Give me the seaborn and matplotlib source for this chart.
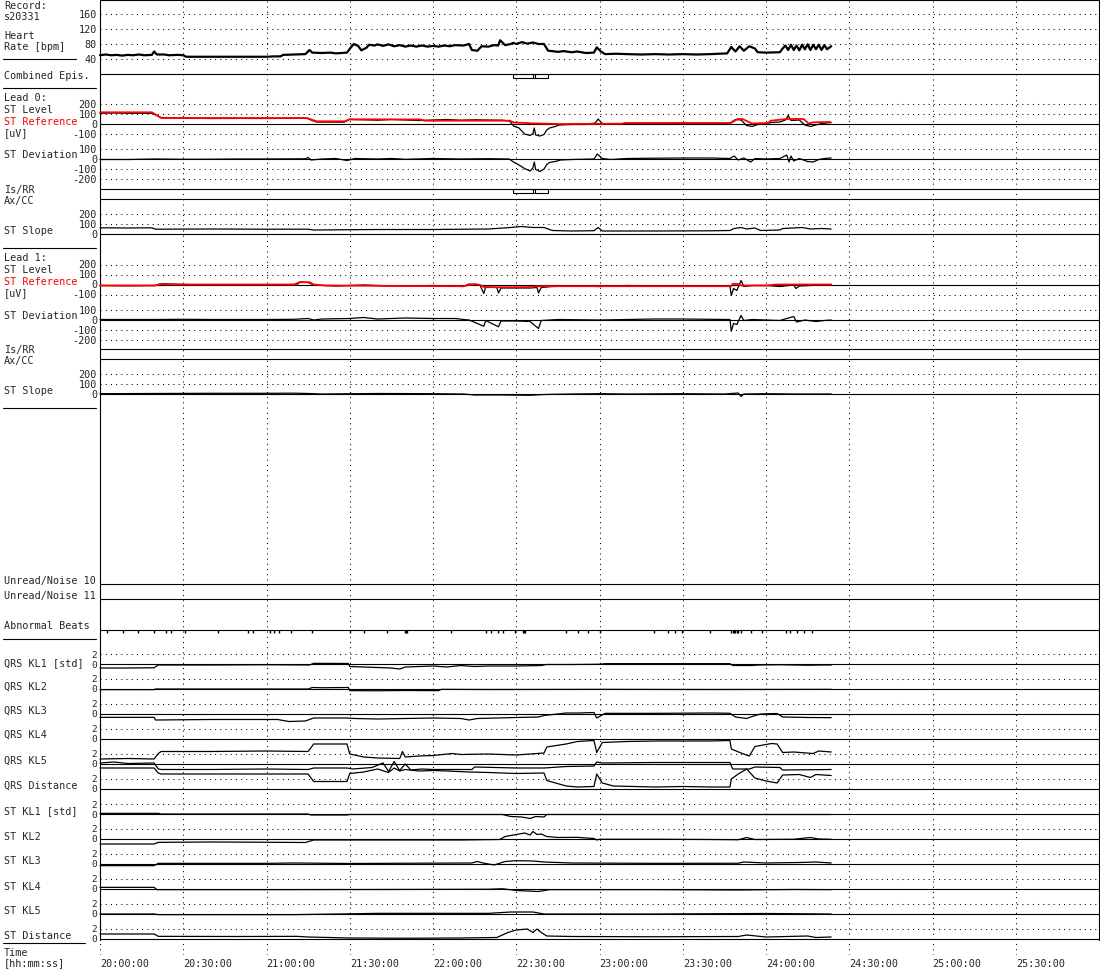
import pandas as pd
import matplotlib
matplotlib.use("Agg")
import matplotlib.pyplot as plt
import matplotlib.transforms as mtransforms
import seaborn as sns

W, H = 1100, 970
X0, X1 = 100, 1099
T_MAX = 360  # minutes after 20:00 covered by the time axis

time_ticks = [0, 30, 60, 90, 120, 150, 180, 210, 240, 270, 300, 330]
time_labels = ["20:00:00", "20:30:00", "21:00:00", "21:30:00", "22:00:00", "22:30:00",
               "23:00:00", "23:30:00", "24:00:00", "24:30:00", "25:00:00", "25:30:00"]

# --- data: (minute after 20:00, value) ---
heart_rate = [(0, 50), (2, 52), (4, 50), (6, 51), (8, 49), (10, 51), (12, 50), (14, 52), (16, 50), (18.7, 51),
              (19.5, 60), (20.5, 52), (23, 52), (25, 50), (28, 51), (30, 50), (31, 46), (40, 46), (50, 46),
              (60, 46), (63, 47), (65, 47), (66, 51), (70, 52), (74, 53), (75.5, 64), (76.5, 57), (80, 56),
              (83, 57), (85, 55), (89, 57), (90.5, 72), (91.5, 80), (93, 75), (94.2, 63), (96, 70), (97, 78),
              (99, 76), (100, 79), (102, 75), (104, 79), (106, 74), (108, 77), (110, 73), (112, 76),
              (114, 73), (116, 76), (118, 73), (120, 75), (122, 73), (124, 76), (126, 74), (128, 77),
              (131, 76), (133, 80), (134, 64), (136, 62), (137.5, 74), (140, 73), (142, 77), (143.5, 76),
              (144.2, 90), (146, 77), (148, 80), (149, 83), (150, 80), (152, 85), (154, 81), (156, 84),
              (158, 80), (160, 80), (161.5, 62), (163, 61), (165, 59), (167, 61), (170, 58), (172, 60),
              (175, 56), (178, 57), (179, 71), (180.5, 60), (182, 53), (186, 54), (190, 53), (195, 52),
              (200, 53), (205, 52), (210, 53), (215, 52), (220, 53), (226, 55), (227.5, 72), (229, 60),
              (230.5, 74), (232, 62), (234, 74), (236, 68), (237, 58), (240, 57), (245, 58), (246, 68),
              (247, 76), (248, 64), (249, 78), (250, 64), (251, 76), (252, 63), (253, 78), (254, 66),
              (255, 79), (256, 64), (257, 78), (258, 66), (259, 78), (260, 64), (261, 77), (262, 66),
              (263.5, 74)]

combined_epis = [(148.7, 161.3)]
epis_marks = [156.2, 156.9]

l0_reference = [(0, 117), (18.7, 117), (22, 60), (74.6, 60), (78, 27), (88.2, 27), (89.9, 47), (115.3, 45),
                (117, 33), (147.6, 33), (149.2, 15), (155.2, 7), (165.4, 0), (188.3, 3), (189, 10),
                (227.3, 10), (229.8, 50), (231.5, 50), (235, 5), (240.8, 10), (241.7, 33), (247.6, 50),
                (253.6, 50), (255.3, 5), (257, 17), (263, 20)]
l0_level = [(0, 107), (5, 110), (10, 107), (18.7, 107), (22, 65), (30, 58), (40, 55), (50, 56), (60, 55),
            (70, 57), (74.6, 57), (76, 40), (78, 20), (88, 18), (89.9, 45), (95, 42), (100, 38), (105, 45),
            (110, 40), (115, 35), (120, 40), (125, 45), (130, 38), (135, 42), (140, 40), (145, 38),
            (147.6, 30), (149, -20), (151, -40), (153, -100), (155, -115), (156, -95), (156.5, -40),
            (157, -110), (158.5, -120), (160, -105), (161, -60), (162, -40), (164, -25), (165.5, -10),
            (170, -5), (175, -5), (178.5, 10), (179.5, 50), (181, 5), (185, 0), (190, 5), (200, 5),
            (210, 8), (220, 5), (227, 8), (229, 45), (231, 40), (233, -15), (235, -25), (237, -5),
            (240, 5), (242, 15), (245, 20), (247, 40), (248, 85), (249, 35), (252, 40), (254, -10),
            (256, -25), (258, -10), (260, 5), (263.5, 15)]
l0_deviation = [(0, -5), (10, -5), (20, 0), (30, -3), (40, -2), (50, 0), (60, 0), (74, 2), (75, 15), (76, -10),
                (80, 0), (85, 5), (89, -15), (92, 5), (100, 0), (105, 5), (110, -3), (120, 5), (130, 0),
                (140, 3), (147.5, 0), (149, -30), (151, -60), (153, -95), (155, -120), (156, -90),
                (156.5, -30), (157, -105), (158.5, -125), (160, -100), (161, -55), (162, -35), (164, -25),
                (166, -10), (170, -5), (178, 0), (179.2, 50), (181, 5), (184, -5), (190, 5), (200, 8),
                (210, 10), (220, 10), (227, 5), (228.5, 30), (230, -10), (232, 10), (234.5, -30), (236, 5),
                (240, 0), (245, 5), (247.5, 40), (248.3, -30), (249, 30), (250, -20), (252, 5), (255, -25),
                (257, -30), (259, -5), (261, 5), (263.5, 10)]
l0_slope = [(0, 57), (10, 55), (18.7, 57), (20, 43), (40, 45), (60, 43), (75, 43), (77, 35), (90, 38),
            (100, 40), (120, 40), (140, 45), (148, 60), (152, 70), (156, 60), (160, 60), (163, 30), (170, 25),
            (178, 28), (179.5, 60), (181, 25), (200, 25), (220, 27), (227, 30), (228.5, 50), (231, 60),
            (233, 45), (236, 55), (238, 30), (245, 35), (246, 50), (250, 55), (253, 60), (256, 45),
            (260, 50), (263.5, 45)]

l1_reference = [(0, -10), (20, -10), (22, 7), (24, 0), (71, 0), (72, 23), (75.5, 23), (77, 0), (81, -10),
                (95, -12), (110, -15), (131, -17), (135, 5), (137, -5), (138.5, -27), (150, -27), (156, -25),
                (157, -17), (170, -17), (190, -17), (210, -17), (227.5, -17), (228, 7), (230, 5), (231, -10),
                (240, -10), (244, 0), (263.5, 0)]
l1_level = [(0, -10), (10, -13), (20, -10), (22, 8), (30, 0), (40, -5), (50, -3), (60, -5), (70, 0), (72, 25),
            (75, 20), (77, -5), (85, -15), (90, -10), (95, -5), (100, -10), (105, -15), (110, -15), (120, -10),
            (128, -15), (131, -20), (133, 5), (137, -10), (138.3, -90), (139, -25), (143, -30), (143.6, -85),
            (144.5, -35), (150, -35), (155, -35), (157.5, -30), (158, -85), (159, -30), (163, -20), (170, -15),
            (180, -20), (190, -10), (200, -15), (210, -15), (220, -15), (227, -15), (227.5, -110),
            (228.3, -40), (229.5, -60), (231, 40), (232, -20), (235, -10), (240, -10), (245, -20), (250, -5),
            (250.8, -40), (252, -15), (256, -10), (260, -5), (263.5, 0)]
l1_deviation = [(0, 0), (20, 0), (30, 2), (40, 0), (60, 0), (70, 2), (75, 10), (77, -5), (80, 5), (90, 10),
                (95, 20), (100, 5), (110, 15), (120, 10), (128, 10), (131, 0), (133, -5), (138.3, -67),
                (139, -10), (143.6, -73), (144.5, -15), (150, -15), (155, -20), (158, -90), (159, -10),
                (165, 0), (180, -5), (190, 0), (200, 5), (210, 5), (220, 2), (227, 0), (227.5, -117),
                (228.3, -40), (229.5, -50), (231, 40), (232, -10), (235, 0), (240, -5), (245, -10), (250, 30),
                (251, -25), (254, -5), (258, -20), (261, -10), (263.5, -5)]
l1_slope = [(0, 3), (20, 5), (40, 7), (60, 7), (70, 8), (75, 5), (80, 0), (100, 5), (120, 3), (131, 0),
            (135, -10), (145, -10), (155, -13), (160, -5), (170, 0), (180, 3), (190, 0), (210, 3), (225, 0),
            (230, 10), (231, -25), (232, 0), (240, 3), (250, 0), (263.5, 0)]

abnormal_beats = [2.5, 8.2, 13.6, 19.5, 23.8, 25.5, 30.6, 42.5, 53.5, 55.2, 61.1, 62.8, 64.5, 68.8, 76.4,
                  90.0, 95.1, 103.6, 110.0, 110.4, 110.8, 126.5, 139.2, 140.9, 143.5, 145.2, 149.4, 152.3,
                  152.8, 153.3, 168.1, 172.3, 175.7, 180.0, 199.5, 204.6, 207.2, 209.7, 219.9, 227.5, 228.0,
                  228.5, 229.0, 229.5, 230.0, 231.0, 234.6, 238.6, 247.1, 248.8, 251.3, 253.8, 256.4]

qrs_kl1 = [(0, -0.8), (10, -0.8), (19.5, -0.75), (21, -0.2), (40, -0.2), (60, -0.15), (75.5, -0.2), (77, 0.13),
           (89.5, 0.1), (90, -0.5), (95, -0.6), (100, -0.7), (105, -0.8), (108, -1.0), (110, -0.6), (115, -0.5),
           (120, -0.4), (125, -0.6), (130, -0.3), (135, -0.5), (140, -0.4), (150, -0.4), (159, -0.3),
           (161, -0.1), (170, -0.1), (180, -0.05), (182, 0.07), (200, 0.07), (227, 0.07), (228, -0.3),
           (235, -0.3), (237.5, -0.2), (245, -0.15), (255, -0.25), (260, -0.2), (263.5, -0.2)]
qrs_kl2 = [(0, -0.13), (19.5, -0.13), (20, 0), (75, 0), (76.5, 0.3), (80, 0.25), (89.5, 0.3), (90, -0.33),
           (100, -0.35), (110, -0.3), (122, -0.33), (123, -0.07), (140, -0.1), (180, -0.07), (220, -0.1),
           (263.5, -0.07)]
qrs_kl3 = [(0, -0.67), (19.5, -0.67), (20, -1.2), (40, -1.1), (64, -1.1), (68, -1.5), (74, -1.4), (77, -0.8),
           (89, -0.8), (92, -0.9), (100, -1.0), (110, -0.9), (120, -0.8), (130, -0.9), (133, -1.2),
           (136, -0.9), (150, -0.7), (158, -0.6), (160, -0.3), (168, 0.2), (173, 0.2), (178, 0.3), (179, -0.8),
           (182, 0.13), (200, 0.13), (220, 0.2), (227, 0.15), (229, -0.6), (233, -0.9), (235, -0.5),
           (238, 0.0), (244, 0.1), (246, -0.6), (255, -0.7), (263.5, -0.73)]
qrs_kl4 = [(0, -4.0), (10, -3.9), (19.5, -4.0), (21, -2.9), (22, -2.5), (40, -2.5), (60, -2.4), (75, -2.5),
           (77, -1.0), (89, -1.0), (90, -3.0), (95, -3.6), (100, -3.8), (108, -3.9), (109, -2.5), (110, -3.6),
           (115, -3.4), (120, -3.3), (127, -2.9), (130, -3.1), (140, -3.0), (150, -3.2), (160, -2.8),
           (161, -1.6), (168, -1.0), (172, -0.5), (178, -0.3), (179, -2.7), (181, -0.7), (190, -0.5),
           (200, -0.4), (210, -0.4), (220, -0.4), (227, -0.3), (227.5, -2.0), (231, -2.8), (234, -3.4),
           (236, -1.5), (242, -0.9), (244, -1.0), (246, -2.7), (250, -2.6), (257, -2.9), (259, -2.4),
           (263.5, -2.6)]
qrs_kl5 = [(0, 0.2), (5, 0.4), (10, 0.1), (19.5, 0.2), (21, -1.0), (22, -1.1), (40, -1.1), (60, -1.0),
           (75, -1.1), (77, -0.8), (89, -0.8), (91, -1.0), (98, -0.7), (102, 0.2), (104, -1.5), (106, 0.5),
           (108, -1.3), (110, 0.0), (112, -1.2), (116, -1.0), (120, -1.1), (134, -1.1), (135, -0.6),
           (150, -0.8), (160, -0.8), (168, -0.5), (178, -0.4), (179, 0.4), (181, 0.2), (200, 0.3),
           (227, 0.3), (228, -1.0), (234, -1.0), (236, -0.6), (245, -0.7), (246, -1.2), (263.5, -1.1)]
qrs_distance = [(0, 4.2), (19.5, 4.2), (21, 3.2), (22, 3.0), (40, 3.0), (60, 3.0), (75, 3.0), (77, 1.5),
                (89, 1.5), (90, 3.1), (95, 3.4), (100, 4.0), (104, 3.3), (106, 4.2), (108, 3.6), (110, 3.9),
                (115, 3.6), (120, 3.7), (125, 3.6), (133, 3.4), (140, 3.3), (150, 3.1), (160, 3.2),
                (161, 1.7), (168, 0.6), (172, 0.4), (178, 0.5), (179, 3.0), (181, 1.2), (185, 0.6),
                (200, 0.4), (210, 0.5), (220, 0.4), (227, 0.4), (227.5, 2.0), (230, 3.0), (233, 4.0),
                (236, 2.2), (240, 1.6), (244, 1.2), (246, 2.8), (252, 2.9), (256, 2.3), (258, 2.9),
                (263.5, 2.7)]

st_kl1 = [(0, 0.13), (21, 0.13), (22, 0), (75, 0), (76, -0.2), (89, -0.2), (90, -0.1), (145, -0.1),
          (148, -0.5), (152, -0.6), (155, -0.9), (157, -0.5), (160, -0.6), (161, -0.1), (200, -0.1),
          (263.5, -0.1)]
st_kl2 = [(0, -1.0), (19.5, -1.0), (21, -0.67), (40, -0.6), (60, -0.65), (74, -0.7), (77, -0.2), (100, -0.2),
          (130, -0.2), (144, -0.1), (146, 0.5), (150, 0.9), (153, 1.2), (155, 0.8), (156, 1.5), (157.5, 0.9),
          (159, 1.0), (161, 0.5), (165, 0.3), (172, 0.33), (178, 0.1), (179, -0.2), (180, -0.05),
          (200, -0.05), (220, -0.1), (230, -0.15), (233, 0.3), (236, -0.1), (250, -0.05), (256, 0.3),
          (259, 0.0), (263.5, -0.05)]
st_kl3 = [(0, -0.33), (19.5, -0.33), (21, 0.13), (60, 0.13), (70, 0.2), (90, 0.1), (110, 0.15), (134, 0.2),
          (136, 0.5), (138, 0.2), (142, -0.2), (146, 0.5), (150, 0.67), (156, 0.6), (160, 0.4), (170, 0.2),
          (200, 0.13), (230, 0.15), (232, 0.4), (240, 0.2), (252, 0.3), (258, 0.4), (263.5, 0.2)]
st_kl4 = [(0, 0.33), (19.5, 0.33), (20.5, -0.13), (60, -0.13), (100, -0.1), (140, -0.05), (145, 0.05),
          (150, -0.3), (158, -0.5), (162, -0.13), (200, -0.13), (230, -0.2), (250, -0.1), (263.5, -0.13)]
st_kl5 = [(0, 0), (19.5, 0), (21, -0.13), (70, -0.13), (92, 0.05), (100, 0.13), (140, 0.13), (148, 0.4),
          (156, 0.4), (160, 0.0), (200, 0.0), (240, 0.1), (263.5, 0.0)]
st_distance = [(0, 1.0), (19.5, 1.0), (21, 0.53), (50, 0.5), (71, 0.53), (75, 0.4), (90, 0.2), (110, 0.15),
               (130, 0.2), (143, 0.3), (147, 1.3), (150, 1.8), (154, 2.0), (156, 1.3), (157.5, 2.0),
               (159, 1.3), (161, 0.6), (170, 0.5), (200, 0.45), (230, 0.5), (233, 0.8), (240, 0.4),
               (255, 0.6), (258, 0.3), (263.5, 0.4)]

# --- styling ---
sns.set_style("white")
plt.rcParams["font.family"] = ["DejaVu Sans Mono"]
FS = 7.3
RED = "#ff0000"
DOT = dict(color="black", lw=0.75, ls=(0, (1, 4)))
SOLID = dict(color="black", lw=0.8)

fig = plt.figure(figsize=(W / 100, H / 100), dpi=100)
frame = fig.add_axes([0, 0, 1, 1])
frame.set_xlim(0, W)
frame.set_ylim(H, 0)
frame.axis("off")


def strip(zero_px, px_per_unit, top_px, bot_px):
    # one signal channel: its own y scale, placed in pixel rows of the figure
    ax = fig.add_axes([X0 / W, 1 - bot_px / H, (X1 - X0) / W, (bot_px - top_px) / H])
    ax.set_xlim(0, T_MAX)
    ax.set_ylim((zero_px - bot_px) / px_per_unit, (zero_px - top_px) / px_per_unit)
    ax.axis("off")
    ax.patch.set_alpha(0)
    return ax


def scale(ax, ticks, fs=FS):
    for v in ticks:
        ax.axhline(v, **(SOLID if v == 0 else DOT))
        ax.text(-0.003, v, str(v), transform=ax.get_yaxis_transform(),
                ha="right", va="center", fontsize=fs)


def trace(ax, pts, color="black", lw=0.9):
    df = pd.DataFrame(pts, columns=["t", "v"])
    sns.lineplot(data=df, x="t", y="v", ax=ax, color=color, lw=lw,
                 estimator=None, sort=False, legend=False, clip_on=False)
    ax.axis("off")


# background grid for the time axis (dotted verticals run a bit below the box)
bg = strip(0, 1, 0, 956)
for t in time_ticks:
    bg.axvline(t, **DOT)
tick_tf = mtransforms.blended_transform_factory(bg.transData, frame.transData)
for t, lab in zip(time_ticks, time_labels):
    bg.text(t, 964, lab, transform=tick_tf, ha="left", va="center", fontsize=FS)

# heart rate
ax = strip(75, 15 / 40, 0, 75)
scale(ax, [40, 80, 120, 160])
trace(ax, heart_rate, lw=1.6)

# combined episodes + Is/RR episodes
for top in (75, 190):
    ax = strip(top, 1, top - 1, top + 8)
    for s, e in combined_epis:
        ax.bar(s, -4, width=e - s, bottom=0, align="edge", fill=False, edgecolor="black", lw=0.8)
    ax.vlines(epis_marks, -4, 0, color="black", lw=0.8)

# lead 0 / lead 1
for base, ref, lev, dev, slo in [(125, l0_reference, l0_level, l0_deviation, l0_slope),
                                 (285.5, l1_reference, l1_level, l1_deviation, l1_slope)]:
    ax = strip(base, 0.1, base - 30, base + 20)
    scale(ax, [200, 100, 0, -100])
    trace(ax, lev, lw=0.9)
    trace(ax, ref, color=RED, lw=1.3)
    ax = strip(base + 35, 0.1, base + 15, base + 60)
    scale(ax, [100, 0, -100, -200])
    trace(ax, dev, lw=0.9)
    ax = strip(base + 109.5, 0.1, base + 80, base + 112)
    scale(ax, [200, 100, 0])
    trace(ax, slo, lw=0.9)

# abnormal beats
ax = strip(630.7, 1, 629, 636)
ax.vlines(abnormal_beats, -3.5, 0, color="black", lw=1.0)

# QRS / ST KL channels
kl_series = [qrs_kl1, qrs_kl2, qrs_kl3, qrs_kl4, qrs_kl5, qrs_distance,
             st_kl1, st_kl2, st_kl3, st_kl4, st_kl5, st_distance]
for i, pts in enumerate(kl_series):
    zero = 665 + 25 * i
    ax = strip(zero, 5, zero - 15, zero + 25)
    scale(ax, [2, 0], fs=6.8)
    trace(ax, pts, lw=0.9)

# frame and empty channel baselines
frame.plot([X0, X1], [0.5, 0.5], **SOLID)
frame.plot([X0, X0], [0, 941], **SOLID)
frame.plot([X1, X1], [0, 941], **SOLID)
for y in (75, 190, 200, 349.5, 360, 585, 600, 630.7):
    frame.plot([X0, X1], [y, y], **SOLID)

# left side labels
labels = [("Record:", 6), ("s20331", 17), ("Heart", 36), ("Rate [bpm]", 47), ("Combined Epis.", 76),
          ("Lead 0:", 98), ("ST Level", 110), ("[uV]", 133), ("ST Deviation", 155), ("Is/RR", 190),
          ("Ax/CC", 201), ("ST Slope", 231), ("Lead 1:", 258), ("ST Level", 270.5), ("[uV]", 293),
          ("ST Deviation", 316), ("Is/RR", 350), ("Ax/CC", 361), ("ST Slope", 391),
          ("Unread/Noise 10", 581), ("Unread/Noise 11", 596), ("Abnormal Beats", 626),
          ("QRS KL1 [std]", 663), ("QRS KL2", 687), ("QRS KL3", 711), ("QRS KL4", 735), ("QRS KL5", 761),
          ("QRS Distance", 786), ("ST KL1 [std]", 811), ("ST KL2", 837), ("ST KL3", 861), ("ST KL4", 887),
          ("ST KL5", 911), ("ST Distance", 936), ("Time", 953), ("[hh:mm:ss]", 963)]
for txt, y in labels:
    frame.text(4, y, txt, ha="left", va="center", fontsize=FS)
for y in (122, 282):
    frame.text(4, y, "ST Reference", ha="left", va="center", fontsize=FS, color=RED)
for y, x_end in ((60.3, 76), (88.7, 96), (248.7, 96), (408.7, 96), (640.3, 96), (944.3, 85)):
    frame.plot([3, x_end], [y, y], **SOLID)

fig.savefig("out.png", dpi=100)
